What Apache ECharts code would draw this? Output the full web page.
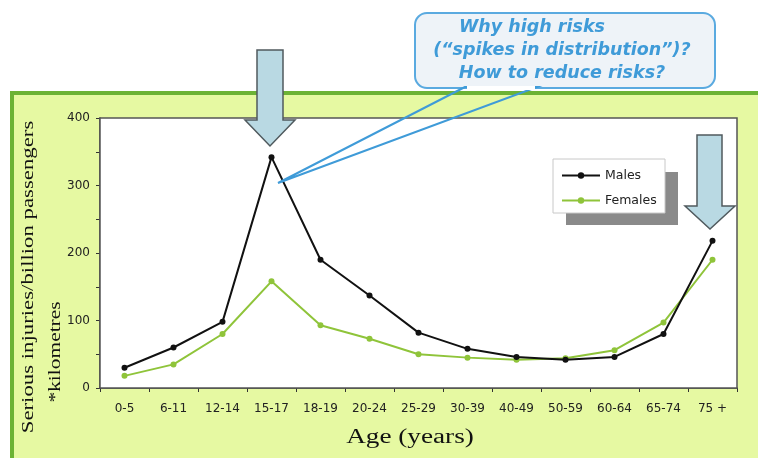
<!DOCTYPE html>
<html>
<head>
<meta charset="utf-8">
<script src="https://cdn.jsdelivr.net/npm/echarts@6/dist/echarts.min.js"></script>
<style>html,body{margin:0;padding:0;background:#fff;}#c{width:758px;height:458px;}</style>
</head>
<body>
<div id="c"></div>
<script>
var categories = ['0-5','6-11','12-14','15-17','18-19','20-24','25-29','30-39','40-49','50-59','60-64','65-74','75 +'];
var males   = [30, 60, 98, 342, 190, 137, 82, 58, 46, 42, 46, 80, 218];
var females = [18, 35, 80, 158, 93, 73, 50, 45, 42, 44, 56, 97, 190];
var yTicks = [0, 100, 200, 300, 400];
var calloutLines = ['Why high risks', '(\u201cspikes in distribution\u201d)?', 'How to reduce risks?'];

var chart = echarts.init(document.getElementById('c'));
var arrowFill = '#b9d9e3', arrowStroke = '#505a5e';
function arrow(sx0, sx1, top, headY, hx0, hx1, tipX, tipY) {
  return {
    type: 'polygon', z: 100,
    shape: { points: [[sx0, top], [sx1, top], [sx1, headY], [hx1, headY], [tipX, tipY], [hx0, headY], [sx0, headY]] },
    style: { fill: arrowFill, stroke: arrowStroke, lineWidth: 1.5 }
  };
}
var blue = '#3f9bd8';
var sans = '"DejaVu Sans", sans-serif';
var serifFont = '"Liberation Serif", "Times New Roman", serif';
chart.setOption({
  animation: false,
  backgroundColor: '#ffffff',
  grid: { left: 100, right: 21, top: 118, bottom: 70, show: true, backgroundColor: '#ffffff', borderColor: '#555', borderWidth: 1.5, z: 1 },
  legend: {
    orient: 'vertical', left: 556, top: 164, itemWidth: 38, itemHeight: 8, itemGap: 12,
    textStyle: { fontFamily: sans, fontSize: 12.5, color: '#222' },
    data: ['Males', 'Females'], z: 60
  },
  xAxis: {
    type: 'category', data: categories, boundaryGap: true,
    axisLine: { lineStyle: { color: '#333', width: 1.5 } },
    axisTick: { show: true, interval: 0, length: 4, lineStyle: { color: '#333' } },
    axisLabel: { interval: 0, margin: 15, fontFamily: sans, fontSize: 12, color: '#222' }
  },
  yAxis: {
    type: 'value', min: 0, max: 400, interval: 100,
    axisLine: { show: true, lineStyle: { color: '#333', width: 1.5 } },
    axisTick: { show: true, length: 4, lineStyle: { color: '#333' } },
    minorTick: { show: true, splitNumber: 2, length: 4, lineStyle: { color: '#333' } },
    axisLabel: { margin: 10, fontFamily: sans, fontSize: 12, color: '#222',
      formatter: function (v) { return yTicks.indexOf(v) >= 0 ? String(v) : ''; } },
    splitLine: { show: true, lineStyle: { color: '#cfe9a8', width: 1 } }
  },
  series: [
    { name: 'Males', type: 'line', data: males, symbol: 'circle', symbolSize: 6, z: 5,
      itemStyle: { color: '#111' }, lineStyle: { color: '#111', width: 2 } },
    { name: 'Females', type: 'line', data: females, symbol: 'circle', symbolSize: 6, z: 4,
      itemStyle: { color: '#8fc43a' }, lineStyle: { color: '#8fc43a', width: 2 } }
  ],
  graphic: [
    { type: 'rect', z: -10, silent: true, shape: { x: 12, y: 93, width: 760, height: 380 },
      style: { fill: '#e6f9a2', stroke: '#6cb335', lineWidth: 4 } },
    { type: 'text', z: 10, x: 29, y: 277, rotation: Math.PI / 2, scaleX: 1.34,
      style: { text: 'Serious injuries/billion passengers', fill: '#111', font: '17px ' + serifFont, textAlign: 'center', textVerticalAlign: 'middle' } },
    { type: 'text', z: 10, x: 56, y: 352, rotation: Math.PI / 2, scaleX: 1.26,
      style: { text: '*kilometres', fill: '#111', font: '17px ' + serifFont, textAlign: 'center', textVerticalAlign: 'middle' } },
    { type: 'text', z: 10, x: 410, y: 438, scaleX: 1.36,
      style: { text: 'Age (years)', fill: '#111', font: '20px ' + serifFont, textAlign: 'center', textVerticalAlign: 'middle' } },
    // legend box + shadow
    { type: 'rect', z: 50, shape: { x: 566, y: 172, width: 112, height: 53 }, style: { fill: '#8a8a8a' } },
    { type: 'rect', z: 51, shape: { x: 553, y: 159, width: 112, height: 54 }, style: { fill: '#ffffff', stroke: '#c8c8c8', lineWidth: 1 } },
    // arrows
    arrow(257, 283, 50, 120, 245, 295, 270, 146),
    arrow(697, 722, 135, 206, 685, 735, 710, 229),
    // callout
    { type: 'rect', z: 90, shape: { x: 415, y: 13, width: 300, height: 75, r: 12 },
      style: { fill: '#eef3f8', stroke: '#5aaae0', lineWidth: 2 } },
    { type: 'polygon', z: 91, shape: { points: [[465, 87], [278, 183], [537, 87]] },
      style: { fill: 'rgba(0,0,0,0)', stroke: blue, lineWidth: 2 } },
    { type: 'rect', z: 92, shape: { x: 467, y: 86, width: 68, height: 4 }, style: { fill: '#ffffff' } },
    { type: 'text', z: 95, x: 532, y: 27, style: { text: calloutLines[0], fill: blue, font: 'italic bold 17.5px ' + sans, textAlign: 'center', textVerticalAlign: 'middle' } },
    { type: 'text', z: 95, x: 562, y: 50, style: { text: calloutLines[1], fill: blue, font: 'italic bold 17.5px ' + sans, textAlign: 'center', textVerticalAlign: 'middle' } },
    { type: 'text', z: 95, x: 562, y: 73, style: { text: calloutLines[2], fill: blue, font: 'italic bold 17.5px ' + sans, textAlign: 'center', textVerticalAlign: 'middle' } }
  ]
});
</script>
</body>
</html>
